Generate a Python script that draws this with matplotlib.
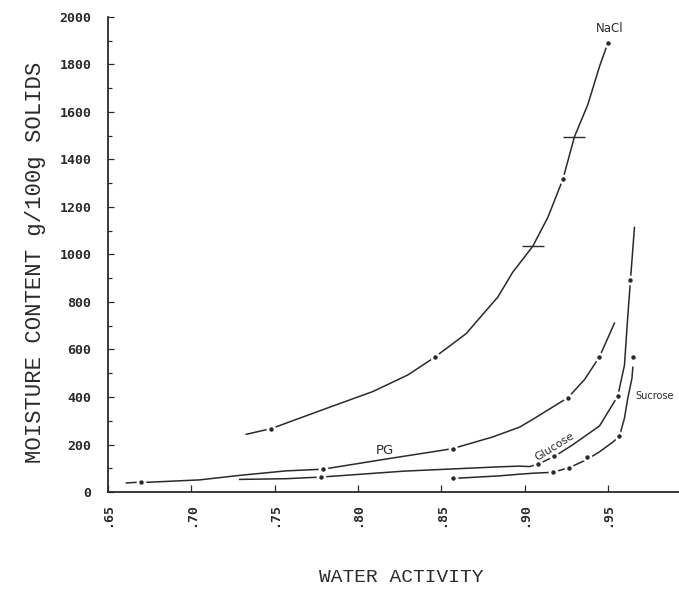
import matplotlib.pyplot as plt
from matplotlib.ticker import MultipleLocator

# sorption isotherms: moisture content (g/100g solids) vs water activity
nacl_aw = [0.733, 0.748, 0.783, 0.809, 0.830, 0.846, 0.865, 0.884, 0.893,
           0.905, 0.914, 0.923, 0.930, 0.938, 0.945, 0.950]
nacl_mc = [243, 267, 357, 423, 493, 567, 667, 821, 926,
           1035, 1156, 1316, 1496, 1631, 1791, 1890]
nacl_pts_aw = [0.748, 0.846, 0.923, 0.950]
nacl_pts_mc = [267, 567, 1316, 1890]
nacl_bar_aw = [0.905, 0.930]
nacl_bar_mc = [1035, 1496]

pg_aw = [0.661, 0.670, 0.674, 0.705, 0.729, 0.757, 0.779, 0.818, 0.851,
         0.857, 0.881, 0.897, 0.905, 0.926, 0.936, 0.945, 0.954]
pg_mc = [38, 42, 41, 51, 70, 89, 96, 140, 176,
         183, 232, 273, 306, 397, 473, 569, 711]
pg_pts_aw = [0.670, 0.779, 0.857, 0.926, 0.945]
pg_pts_mc = [42, 96, 183, 397, 569]

glucose_aw = [0.729, 0.757, 0.778, 0.828, 0.885, 0.897, 0.903, 0.908,
              0.918, 0.929, 0.945, 0.956, 0.960, 0.962, 0.9636, 0.966]
glucose_mc = [53, 56, 63, 88, 106, 109, 107, 117,
              150, 199, 278, 404, 534, 740, 892, 1114]
glucose_pts_aw = [0.778, 0.908, 0.918, 0.956, 0.9636]
glucose_pts_mc = [63, 117, 150, 404, 892]

sucrose_aw = [0.857, 0.885, 0.897, 0.905, 0.917, 0.927, 0.937, 0.945,
              0.953, 0.957, 0.960, 0.962, 0.9645, 0.965]
sucrose_mc = [57, 68, 75, 79, 83, 103, 135, 169,
              210, 235, 311, 395, 479, 525]
sucrose_pts_aw = [0.857, 0.917, 0.927, 0.9375, 0.957, 0.965]
sucrose_pts_mc = [57, 83, 103, 148, 235, 567]

x_ticks = [0.65, 0.70, 0.75, 0.80, 0.85, 0.90, 0.95]
x_ticklabels = ['.65', '.70', '.75', '.80', '.85', '.90', '.95']
y_ticks = list(range(0, 2001, 200))

ink = '#2a2a2a'
mono = 'DejaVu Sans Mono'

fig = plt.figure(figsize=(6.79, 5.91), dpi=100)
ax = fig.add_axes([108 / 679, 99 / 591, 571 / 679, 475 / 591])

curves = [
    (nacl_aw, nacl_mc, nacl_pts_aw, nacl_pts_mc),
    (pg_aw, pg_mc, pg_pts_aw, pg_pts_mc),
    (glucose_aw, glucose_mc, glucose_pts_aw, glucose_pts_mc),
    (sucrose_aw, sucrose_mc, sucrose_pts_aw, sucrose_pts_mc),
]
for aw, mc, paw, pmc in curves:
    ax.plot(aw, mc, color=ink, lw=1.1, zorder=2)
    # white disc under each point leaves a small break in the pen line
    ax.plot(paw, pmc, 'o', ms=7, mfc='white', mec='none', ls='none', zorder=3)
    ax.plot(paw, pmc, 'o', ms=3.2, mfc=ink, mec='none', ls='none', zorder=4)
ax.plot(nacl_bar_aw, nacl_bar_mc, '_', ms=16, mew=1.0, color=ink, zorder=3)

ax.text(0.9513, 1953, 'NaCl', fontsize=8.5, color=ink, ha='center', va='center')
ax.text(0.8163, 173, 'PG', fontsize=9.5, color=ink, ha='center', va='center')
ax.text(0.918, 190, 'Glucose', fontsize=8, color=ink, ha='center', va='center',
        rotation=32)
ax.text(0.9665, 406, 'Sucrose', fontsize=7, color=ink, ha='left', va='center')

ax.set_xlim(0.65, 0.65 + 571 / 1666)
ax.set_ylim(0, 2000)
ax.set_xticks(x_ticks)
ax.set_xticklabels(x_ticklabels, rotation=90, family=mono, fontweight='bold',
                   fontsize=9.5, color=ink)
ax.set_yticks(y_ticks)
ax.set_yticklabels([str(v) for v in y_ticks], family=mono, fontweight='bold',
                   fontsize=9.5, color=ink)
ax.yaxis.set_minor_locator(MultipleLocator(100))
ax.tick_params(axis='x', direction='in', length=5, width=0.9, pad=8, colors=ink)
ax.tick_params(axis='y', which='major', direction='in', length=4, width=0.9,
               pad=12, colors=ink)
ax.tick_params(axis='y', which='minor', direction='in', length=3, width=0.9,
               colors=ink)

for side in ['top', 'right']:
    ax.spines[side].set_visible(False)
for side in ['left', 'bottom']:
    ax.spines[side].set_linewidth(1.3)
    ax.spines[side].set_color(ink)

fig.text(401 / 679, 1 - 577 / 591, 'WATER ACTIVITY', family='Liberation Mono',
         fontsize=14, color=ink, ha='center', va='center')
fig.text(36 / 679, 1 - 262 / 591, 'MOISTURE CONTENT g/100g SOLIDS',
         family='Liberation Mono', fontsize=16, color=ink, ha='center',
         va='center', rotation=90)

fig.savefig('out.png', dpi=100)
